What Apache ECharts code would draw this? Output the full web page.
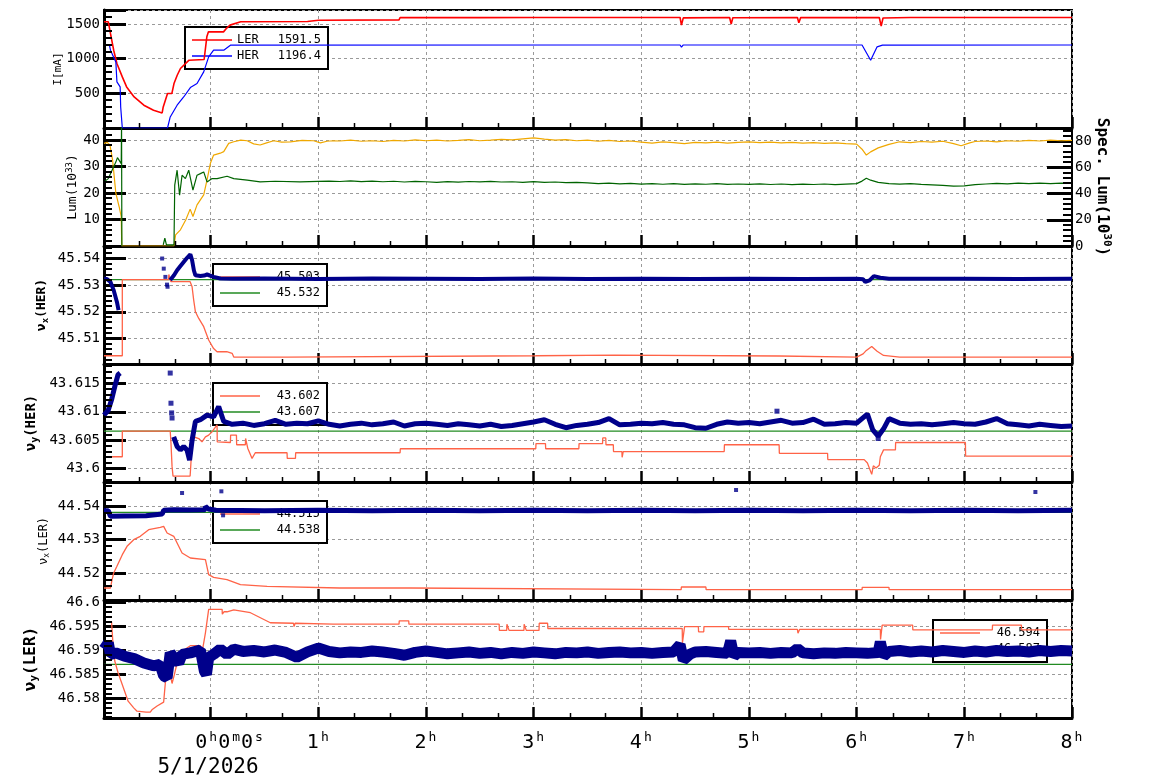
<!DOCTYPE html>
<html><head><meta charset="utf-8">
<script src="https://cdn.jsdelivr.net/npm/echarts@6/dist/echarts.min.js"></script>
<style>html,body{margin:0;padding:0;background:#fff}#c{width:1154px;height:782px}</style>
</head><body><div id="c"></div>
<script>
const FONT = 'DejaVu Sans Mono';
// ---------- tick labels ----------
const hourTicks = [0,1,2,3,4,5,6,7,8];
const dateLabel = '5/1/2026';
const p1Labels = ['500','1000','1500'];
const p2Labels = ['10','20','30','40'];
const p2rLabels = ['0','20','40','60','80'];
const p3Labels = ['45.51','45.52','45.53','45.54'];
const p4Labels = ['43.6','43.605','43.61','43.615'];
const p5Labels = ['44.52','44.53','44.54'];
const p6Labels = ['46.58','46.585','46.59','46.595','46.6'];
// ---------- legend values ----------
const legP1 = ['1591.5','1196.4'];
const legP3 = ['45.503','45.532'];
const legP4 = ['43.602','43.607'];
const legP5 = ['44.515','44.538'];
const legP6 = ['46.594','46.587'];
// ---------- data: [hours, value] ----------
const LER = [[-0.99,1530],[-0.95,1530],[-0.93,1362],[-0.9,1121],[-0.87,929],[-0.82,736],[-0.78,592],[-0.71,447],[-0.62,328],[-0.53,255],[-0.45,217],[-0.44,303],[-0.4,496],[-0.36,496],[-0.34,640],[-0.31,760],[-0.28,857],[-0.2,977],[-0.06,987],[-0.035,1313],[-0.02,1385],[0.12,1385],[0.15,1440],[0.18,1482],[0.28,1530],[0.9,1535],[1.0,1552],[1.75,1558],[1.76,1592],[2.5,1590],[3.0,1593],[3.6,1591],[4.36,1592],[4.373,1482],[4.39,1586],[4.82,1592],[4.835,1496],[4.85,1589],[5.45,1592],[5.463,1515],[5.48,1590],[6.21,1592],[6.228,1467],[6.245,1585],[6.5,1592],[7.2,1591],[8,1592]];
const HER = [[-0.99,1196],[-0.94,1196],[-0.93,1121],[-0.88,952],[-0.87,664],[-0.84,592],[-0.835,303],[-0.82,0],[-0.4,0],[-0.375,159],[-0.311,328],[-0.25,447],[-0.188,583],[-0.126,640],[-0.064,808],[-0.018,1024],[0.028,1121],[0.122,1121],[0.184,1193],[3.62,1196],[3.63,1178],[3.64,1196],[4.36,1196],[4.373,1165],[4.39,1196],[4.83,1196],[4.838,1172],[4.846,1196],[5.45,1196],[5.463,1178],[5.476,1196],[6.05,1196],[6.13,977],[6.19,1169],[6.24,1193],[8,1196]];
const LUM = [[-0.99,38.7],[-0.96,39.1],[-0.935,38.1],[-0.91,32.4],[-0.88,19.9],[-0.85,14.9],[-0.83,11.1],[-0.825,0],[-0.34,0],[-0.325,4.2],[-0.28,6.1],[-0.23,9.9],[-0.19,13.9],[-0.164,11.1],[-0.126,15.5],[-0.064,19.3],[-0.033,24.9],[-0.002,31.2],[0.028,34.3],[0.09,35],[0.122,35.6],[0.168,38.7],[0.215,39.3],[0.28,39.9],[0.34,39.7],[0.4,38.5],[0.46,38.1],[0.52,38.9],[0.586,39.7],[0.66,39.2],[0.74,39.3],[0.85,39.8],[0.957,39.7],[1.02,38.9],[1.08,39.5],[1.14,39.7],[1.2,39.6],[1.3,39.9],[1.4,39.5],[1.5,39.7],[1.6,39.4],[1.7,39.8],[1.8,39.6],[1.9,40.0],[2.0,39.7],[2.1,39.9],[2.2,39.6],[2.3,39.8],[2.4,40.1],[2.5,39.7],[2.6,39.9],[2.7,40.2],[2.8,40.0],[2.9,40.4],[3.0,40.8],[3.1,40.3],[3.2,39.9],[3.3,40.1],[3.4,39.7],[3.5,39.9],[3.6,39.5],[3.7,39.8],[3.8,39.4],[3.9,39.6],[4.0,39.2],[4.1,38.8],[4.2,39.3],[4.3,39.0],[4.4,38.6],[4.5,39.1],[4.6,38.9],[4.7,39.2],[4.8,38.8],[4.9,39.1],[5.0,39.3],[5.1,39.0],[5.2,39.2],[5.3,38.9],[5.4,39.1],[5.5,38.8],[5.6,39.0],[5.7,38.7],[5.8,38.9],[5.9,38.6],[6.0,38.4],[6.05,36.5],[6.09,34.3],[6.13,35.5],[6.2,37.0],[6.3,38.3],[6.4,39.3],[6.5,39.0],[6.6,39.4],[6.7,39.2],[6.8,39.5],[6.9,38.6],[6.97,37.8],[7.05,38.9],[7.1,39.4],[7.2,39.6],[7.3,39.3],[7.4,39.7],[7.5,39.5],[7.6,39.8],[7.7,39.6],[7.8,39.9],[7.9,39.7],[8.0,39.8]];
const SPEC = [[-0.99,48.9],[-0.95,51.4],[-0.915,57.8],[-0.88,64],[-0.865,67.4],[-0.83,62.8],[-0.827,95],[-0.824,0],[-0.6,null],[-0.44,0.8],[-0.425,5.9],[-0.41,0.8],[-0.34,0.8],[-0.333,46.4],[-0.311,57.8],[-0.288,38.8],[-0.265,54],[-0.234,51.4],[-0.203,57.8],[-0.164,42.6],[-0.126,54],[-0.095,55.2],[-0.064,56.5],[-0.033,48.9],[0.014,51.4],[0.06,51.4],[0.153,53.2],[0.215,51.4],[0.34,50.2],[0.46,48.9],[0.6,49.4],[0.83,48.9],[1.0,49.3],[1.1,49.5],[1.2,49.2],[1.3,49.6],[1.4,49.1],[1.5,49.5],[1.6,49.0],[1.7,49.4],[1.8,48.8],[1.9,49.3],[2.0,49.0],[2.1,48.6],[2.2,49.1],[2.3,48.7],[2.4,49.2],[2.5,48.9],[2.6,49.3],[2.7,48.8],[2.8,49.0],[2.9,48.6],[3.0,49.1],[3.1,48.5],[3.2,48.8],[3.3,48.3],[3.4,48.6],[3.5,48.1],[3.6,47.5],[3.7,47.9],[3.8,47.4],[3.9,47.8],[4.0,47.2],[4.1,47.6],[4.2,47.1],[4.3,47.5],[4.4,47.0],[4.5,47.4],[4.6,47.1],[4.7,47.6],[4.8,47.0],[4.9,47.3],[5.0,47.0],[5.1,47.4],[5.2,46.9],[5.3,47.3],[5.4,46.8],[5.5,47.2],[5.6,46.9],[5.7,47.3],[5.8,46.8],[5.9,47.2],[6.0,47.6],[6.05,49.5],[6.09,51.7],[6.13,50.2],[6.2,48.5],[6.3,47.6],[6.4,47.2],[6.5,47.5],[6.6,47.0],[6.7,46.6],[6.8,46.2],[6.9,45.6],[7.0,45.9],[7.1,46.8],[7.2,47.3],[7.3,47.8],[7.4,47.4],[7.5,47.9],[7.6,47.5],[7.7,48.0],[7.8,47.6],[7.9,47.9],[8.0,47.7]];
// nu_x HER
const NXH_MEAS = [[-0.99,45.5325],[-0.96,45.5322],[-0.93,45.5312],[-0.9,45.5281],[-0.87,45.5237],[-0.855,45.5206],[-0.6,null],[-0.375,45.5319],[-0.34,45.5337],[-0.311,45.5356],[-0.28,45.5372],[-0.25,45.5387],[-0.22,45.5402],[-0.188,45.5416],[-0.172,45.5394],[-0.155,45.5355],[-0.141,45.5337],[-0.095,45.5334],[-0.06,45.5336],[-0.033,45.534],[0.028,45.5331],[0.09,45.5325],[0.2,45.5324],[0.5,45.5325],[1.0,45.5323],[1.5,45.5325],[2.0,45.5324],[2.5,45.5323],[3.0,45.5325],[3.5,45.5323],[4.0,45.5324],[4.5,45.5323],[5.0,45.5324],[5.5,45.5323],[6.0,45.5324],[6.06,45.5322],[6.08,45.5312],[6.12,45.5318],[6.16,45.5334],[6.22,45.5328],[6.3,45.5324],[7.0,45.5324],[7.5,45.5323],[8,45.5324]];
const NXH_OUT = [[-0.45,45.54],[-0.435,45.5362],[-0.42,45.5331],[-0.405,45.5302],[-0.4,45.5294]];
const NXH_SET = [[-0.99,45.5035],[-0.82,45.5035],[-0.82,45.5321],[-0.39,45.5321],[-0.388,45.534],[-0.37,45.534],[-0.368,45.5313],[-0.19,45.5313],[-0.172,45.5294],[-0.157,45.5244],[-0.141,45.52],[-0.11,45.5175],[-0.064,45.5144],[-0.018,45.5094],[0.028,45.5062],[0.06,45.505],[0.15,45.505],[0.152,45.5044],[0.2,45.5044],[0.215,45.503],[0.71,45.503],[0.712,45.5035],[3.02,45.5035],[3.022,45.5037],[3.75,45.5037],[3.752,45.5034],[5.28,45.5034],[5.282,45.503],[6.0,45.503],[6.06,45.5042],[6.09,45.5055],[6.14,45.507],[6.19,45.5052],[6.25,45.5036],[6.4,45.503],[8,45.503]];
const NXH_REF = [[-0.99,45.5321],[8,45.5321]];
// nu_y HER
const NYH_MEAS = [[-0.99,43.6094],[-0.95,43.6103],[-0.92,43.6121],[-0.89,43.6144],[-0.86,43.6165],[-0.84,43.6168],[-0.6,null],[-0.343,43.6056],[-0.311,43.6039],[-0.281,43.6033],[-0.25,43.6039],[-0.219,43.6033],[-0.195,43.6015],[-0.172,43.605],[-0.141,43.6083],[-0.095,43.6086],[-0.033,43.6094],[0.028,43.6091],[0.075,43.6109],[0.122,43.6083],[0.2,43.6078],[0.3,43.6080],[0.4,43.6076],[0.5,43.6079],[0.6,43.6085],[0.7,43.6078],[0.8,43.6080],[0.9,43.6079],[1.0,43.6084],[1.1,43.6078],[1.2,43.6075],[1.3,43.6078],[1.4,43.6080],[1.5,43.6077],[1.6,43.6079],[1.7,43.6082],[1.8,43.6075],[1.9,43.6079],[2.0,43.6080],[2.1,43.6078],[2.2,43.6076],[2.3,43.6079],[2.4,43.6077],[2.5,43.6075],[2.6,43.6078],[2.7,43.6074],[2.8,43.6076],[2.9,43.6079],[3.0,43.6082],[3.1,43.6086],[3.2,43.6078],[3.3,43.6072],[3.4,43.6076],[3.5,43.6078],[3.6,43.6081],[3.7,43.6088],[3.8,43.6077],[3.9,43.6078],[4.0,43.6080],[4.1,43.6079],[4.2,43.6081],[4.3,43.6078],[4.4,43.6077],[4.5,43.6072],[4.6,43.6071],[4.7,43.6078],[4.8,43.6082],[4.9,43.6080],[5.0,43.6081],[5.1,43.6079],[5.2,43.6082],[5.3,43.6085],[5.4,43.6080],[5.5,43.6081],[5.6,43.6087],[5.7,43.6078],[5.8,43.6079],[5.9,43.6081],[6.0,43.6080],[6.1,43.6096],[6.15,43.6068],[6.2,43.6057],[6.25,43.6070],[6.3,43.6088],[6.4,43.6080],[6.5,43.6078],[6.6,43.6079],[6.7,43.6077],[6.8,43.6079],[6.9,43.6081],[7.0,43.6079],[7.1,43.6078],[7.2,43.6082],[7.3,43.6088],[7.4,43.6079],[7.5,43.6077],[7.6,43.6075],[7.7,43.6078],[7.8,43.6076],[7.9,43.6074],[8.0,43.6075]];
const NYH_OUT = [[-0.375,43.6168],[-0.368,43.6115],[-0.362,43.6098],[-0.358,43.6089],[5.26,43.6101],[6.2,43.6053]];
const NYH_SET = [[-0.99,43.6021],[-0.82,43.6021],[-0.82,43.6066],[-0.375,43.6066],[-0.368,43.6045],[-0.358,43.6004],[-0.349,43.5987],[-0.19,43.5987],[-0.183,43.6009],[-0.17,43.605],[-0.157,43.6056],[-0.11,43.6053],[-0.08,43.6047],[-0.048,43.6056],[-0.018,43.6059],[0.014,43.6065],[0.06,43.6077],[0.062,43.6047],[0.184,43.6046],[0.186,43.6059],[0.24,43.6059],[0.242,43.6042],[0.323,43.6042],[0.325,43.6053],[0.345,43.6036],[0.385,43.6018],[0.415,43.6028],[0.71,43.6028],[0.712,43.6018],[0.788,43.6018],[0.79,43.6028],[1.76,43.6028],[1.762,43.6035],[3.02,43.6035],[3.022,43.6044],[3.11,43.6044],[3.112,43.6035],[3.42,43.6035],[3.422,43.6044],[3.64,43.6044],[3.642,43.6054],[3.67,43.6054],[3.672,43.6042],[3.74,43.6042],[3.742,43.603],[3.82,43.603],[3.822,43.602],[3.83,43.602],[3.832,43.603],[4.77,43.603],[4.772,43.6042],[5.28,43.6042],[5.282,43.6027],[5.73,43.6027],[5.732,43.6016],[6.07,43.6016],[6.1,43.601],[6.14,43.599],[6.155,43.6005],[6.18,43.6001],[6.21,43.6006],[6.22,43.6021],[6.25,43.6033],[6.36,43.6033],[6.362,43.6046],[7.01,43.6046],[7.012,43.6022],[8,43.6022]];
const NYH_REF = [[-0.99,43.6066],[8,43.6066]];
// nu_x LER
const NXL_MEAS = [[-0.99,44.5387],[-0.95,44.5387],[-0.93,44.537],[-0.8,44.5371],[-0.6,44.5372],[-0.45,44.5377],[-0.435,44.5388],[-0.34,44.539],[-0.2,44.5389],[-0.05,44.539],[-0.048,44.54],[-0.02,44.5392],[0.05,44.5388],[0.5,44.5387],[1.0,44.5388],[1.5,44.5387],[2.0,44.5388],[2.5,44.5387],[3.0,44.5388],[3.5,44.5387],[4.0,44.5388],[4.5,44.5387],[5.0,44.5388],[5.5,44.5387],[6.0,44.5388],[6.5,44.5387],[7.0,44.5388],[7.5,44.5387],[8,44.5388]];
const NXL_OUT = [[-0.265,44.544],[0.10,44.5445],[0.116,44.5373],[4.88,44.5449],[7.66,44.5443]];
const NXL_SET = [[-0.99,44.5155],[-0.93,44.5155],[-0.915,44.518],[-0.9,44.52],[-0.87,44.522],[-0.82,44.5255],[-0.776,44.528],[-0.714,44.53],[-0.653,44.531],[-0.575,44.533],[-0.467,44.5337],[-0.436,44.534],[-0.404,44.532],[-0.342,44.531],[-0.265,44.526],[-0.188,44.5245],[-0.048,44.524],[-0.018,44.5195],[0.028,44.5187],[0.152,44.518],[0.277,44.5165],[0.525,44.516],[1.2,44.5155],[1.85,44.5155],[1.852,44.515],[4.37,44.515],[4.372,44.5158],[4.6,44.5158],[4.602,44.515],[6.05,44.515],[6.052,44.5157],[6.3,44.5157],[6.302,44.515],[8,44.515]];
const NXL_REF = [[-0.99,44.5382],[8,44.5382]];
// nu_y LER
const NYL_MEAS = [[-0.99,46.5903],[-0.95,46.5916],[-0.93,46.5892],[-0.88,46.5895],[-0.8,46.5888],[-0.71,46.5883],[-0.62,46.5874],[-0.53,46.5868],[-0.47,46.5871],[-0.436,46.5847],[-0.404,46.5843],[-0.375,46.5895],[-0.342,46.5885],[-0.296,46.5874],[-0.265,46.5892],[-0.188,46.5895],[-0.095,46.5901],[-0.058,46.5857],[-0.039,46.585],[-0.018,46.5885],[0.028,46.5892],[0.09,46.5903],[0.153,46.5892],[0.215,46.5903],[0.3,46.5898],[0.4,46.5900],[0.5,46.5897],[0.6,46.5901],[0.7,46.5896],[0.8,46.5886],[0.9,46.5897],[1.0,46.5905],[1.1,46.5898],[1.2,46.5895],[1.3,46.5897],[1.4,46.5896],[1.5,46.5899],[1.6,46.5897],[1.7,46.5894],[1.8,46.5890],[1.9,46.5896],[2.0,46.5899],[2.1,46.5896],[2.2,46.5893],[2.3,46.5895],[2.4,46.5897],[2.5,46.5894],[2.6,46.5896],[2.7,46.5893],[2.8,46.5896],[2.9,46.5894],[3.0,46.5897],[3.1,46.5895],[3.2,46.5893],[3.3,46.5896],[3.4,46.5895],[3.5,46.5897],[3.6,46.5894],[3.7,46.5896],[3.8,46.5897],[3.9,46.5895],[4.0,46.5896],[4.1,46.5894],[4.2,46.5896],[4.3,46.5897],[4.36,46.5912],[4.39,46.5880],[4.45,46.5892],[4.5,46.5897],[4.6,46.5898],[4.7,46.5896],[4.8,46.5894],[4.83,46.5920],[4.86,46.5888],[4.9,46.5896],[5.0,46.5895],[5.1,46.5896],[5.2,46.5894],[5.3,46.5896],[5.4,46.5895],[5.45,46.5904],[5.5,46.5895],[5.6,46.5893],[5.7,46.5895],[5.8,46.5894],[5.9,46.5896],[6.0,46.5895],[6.1,46.5894],[6.2,46.5896],[6.22,46.5918],[6.25,46.5888],[6.3,46.5898],[6.4,46.5900],[6.5,46.5897],[6.6,46.5899],[6.7,46.5897],[6.8,46.5900],[6.9,46.5898],[7.0,46.5896],[7.1,46.5899],[7.2,46.5897],[7.3,46.5900],[7.4,46.5898],[7.5,46.5899],[7.6,46.5897],[7.7,46.5900],[7.8,46.5898],[7.9,46.5900],[8.0,46.5899]];
const NYL_SET = [[-0.99,46.596],[-0.92,46.596],[-0.905,46.5909],[-0.89,46.5878],[-0.86,46.5854],[-0.81,46.5822],[-0.766,46.5794],[-0.714,46.578],[-0.683,46.5773],[-0.6,46.5771],[-0.56,46.5771],[-0.545,46.5776],[-0.497,46.5784],[-0.436,46.5792],[-0.42,46.5833],[-0.404,46.5854],[-0.375,46.585],[-0.358,46.5831],[-0.336,46.585],[-0.311,46.5874],[-0.281,46.5888],[-0.234,46.5903],[-0.188,46.591],[-0.095,46.591],[-0.08,46.5895],[-0.048,46.5937],[-0.018,46.5986],[0.107,46.5986],[0.109,46.5976],[0.122,46.5976],[0.124,46.5981],[0.153,46.5981],[0.215,46.5985],[0.37,46.5979],[0.555,46.5958],[0.77,46.5957],[0.775,46.595],[0.785,46.5957],[1.14,46.5955],[1.75,46.5955],[1.752,46.5962],[1.84,46.5962],[1.842,46.5955],[2.68,46.5955],[2.682,46.5942],[2.75,46.5942],[2.752,46.5955],[2.77,46.5955],[2.772,46.5942],[2.91,46.5942],[2.912,46.5955],[2.93,46.5955],[2.932,46.5942],[3.05,46.5942],[3.052,46.5957],[3.13,46.5957],[3.132,46.5946],[4.38,46.5946],[4.382,46.5916],[4.4,46.5916],[4.402,46.595],[4.53,46.595],[4.532,46.5939],[4.58,46.5939],[4.582,46.595],[4.81,46.595],[4.812,46.5944],[5.45,46.5944],[5.455,46.5936],[5.47,46.5944],[6.22,46.5944],[6.222,46.5923],[6.235,46.5923],[6.237,46.5953],[6.52,46.5953],[6.522,46.5943],[7.26,46.5943],[7.262,46.5953],[7.53,46.5953],[7.532,46.5943],[8,46.5943]];
const NYL_REF = [[-0.99,46.5871],[8,46.5871]];

// ---------- layout ----------
const X_MIN = -0.99, X_MAX = 8;
const tops = [10,128,246,364,482,600];
const PH = 118;
const GRID_LINE = {color:'#9a9a9a', type:[3,3], width:1};

function fmtY(v, labels) {
  const s = String(+(+v).toFixed(4));
  return labels.indexOf(s) >= 0 ? s : '';
}
function nameStyle(fs, bold) {
  const fw = bold ? 'bold' : 'normal';
  return {fontFamily:FONT, fontSize:fs, fontWeight:fw, color:'#000',
    rich:{
      n:{fontFamily:FONT, fontSize:fs, fontWeight:fw, color:'#000', lineHeight:fs+3},
      p:{fontFamily:FONT, fontSize:Math.round(fs*0.7), fontWeight:fw, color:'#000', lineHeight:Math.round(fs*0.6), verticalAlign:'top'},
      b:{fontFamily:FONT, fontSize:Math.round(fs*0.7), fontWeight:fw, color:'#000', lineHeight:Math.round(fs*0.6), verticalAlign:'bottom'}
    }};
}
function yAx(gi, c, right) {
  return {
    type:'value', gridIndex:gi, position: right ? 'right' : 'left',
    min:c.min, max:c.max, minInterval:c.iv, maxInterval:c.iv, splitNumber:4,
    axisLine:{show:true, onZero:false, lineStyle:{color:'#000', width: right ? 2 : 3}},
    axisTick:{show:true, inside:true, length: right ? 25 : 22, lineStyle:{color:'#000', width:3}},
    minorTick:{show:false},
    splitLine:{show:!right, lineStyle:GRID_LINE},
    axisLabel:{show:true, margin: right ? 3 : 4, fontFamily:FONT, fontSize:14, color:'#000', formatter: v => fmtY(v, c.labels)},
    name:c.name, nameLocation:'middle', nameGap:c.gap, nameRotate:c.rot, nameMoveOverlap:false,
    nameTextStyle: nameStyle(c.fs, c.bold)
  };
}
function xAx(gi, last) {
  return {
    type:'value', gridIndex:gi, position:'bottom', min:X_MIN, max:X_MAX, minInterval:1, maxInterval:1, splitNumber:9,
    axisLine:{show:true, onZero:false, lineStyle:{color:'#000', width:3}},
    axisTick:{show:true, inside:true, length:11, lineStyle:{color:'#000', width:2.5}},
    minorTick:{show:false},
    splitLine:{show:true, lineStyle:GRID_LINE},
    axisLabel:{show:last, margin:13, color:'#000', fontFamily:FONT,
      formatter: v => {
        const r = Math.round(v);
        if (Math.abs(v - r) > 1e-6 || hourTicks.indexOf(r) < 0) return '';
        return r === 0 ? '{z|0}{s|h}{n|0}{s|m}{n|0}{s|s}' : '{n|' + r + '}{s|h}';
      },
      rich:{
        n:{fontFamily:FONT, fontSize:20, lineHeight:24, color:'#000'},
        z:{fontFamily:FONT, fontSize:20, lineHeight:24, color:'#000', padding:[0,0,0,38]},
        s:{fontFamily:FONT, fontSize:13, lineHeight:10, verticalAlign:'top', color:'#000', padding:[0,1,0,2]}
      }}
  };
}
const yCfg = [
  {min:0, max:1700, iv:500, labels:p1Labels, name:'I[mA]', fs:11, bold:false, gap:40},
  {min:0, max:44.5, iv:10, labels:p2Labels, name:'{n|Lum(10}{p|33}{n|)}', fs:13, bold:false, gap:23},
  {min:0, max:90, iv:20, labels:p2rLabels, name:'{n|Spec. Lum(10}{p|30}{n|)}', fs:16, bold:true, gap:21, rot:-90},
  {min:45.5004, max:45.5447, iv:0.01, labels:p3Labels, name:'{n|ν}{b|x}{n|(HER)}', fs:13, bold:true, gap:54},
  {min:43.59766, max:43.61839, iv:0.005, labels:p4Labels, name:'{n|ν}{b|y}{n|(HER)}', fs:14, bold:true, gap:64},
  {min:44.5119, max:44.5473, iv:0.01, labels:p5Labels, name:'{n|ν}{b|x}{n|(LER)}', fs:12, bold:false, gap:53},
  {min:46.57588, max:46.60056, iv:0.005, labels:p6Labels, name:'{n|ν}{b|y}{n|(LER)}', fs:16, bold:true, gap:64}
];
const yAxisGrid = [0,1,1,2,3,4,5];
const yAxisRight = [false,false,true,false,false,false,false];
const gridMainY = [0,1,3,4,5,6];

function line(name, data, xi, yi, color, width, z) {
  return {type:'line', name, data, xAxisIndex:xi, yAxisIndex:yi, symbol:'none', showSymbol:false,
    color, itemStyle:{color}, lineStyle:{color, width, join:'bevel'}, connectNulls:false, z: z || 2, animation:false};
}
function dots(name, data, xi, yi, color, size) {
  return {type:'scatter', name, data, xAxisIndex:xi, yAxisIndex:yi, symbol:'rect', symbolSize:size,
    itemStyle:{color}, z:3, animation:false};
}
// minor-tick decoration drawn as a custom series on the panel's own axes
function tickSeries(xi, yi, pts, dx, dy, w) {
  return {type:'custom', xAxisIndex:xi, yAxisIndex:yi, data:pts, silent:true, clip:false, z:6, animation:false,
    encode:{x:0, y:1},
    renderItem:(params, api) => {
      const p = api.coord([api.value(0), api.value(1)]);
      const x = dy ? Math.round(p[0]) + 0.5 : p[0];
      const y = dx ? Math.round(p[1]) : p[1];
      return {type:'line', shape:{x1:x, y1:y, x2:x + dx, y2:y + dy}, style:{stroke:'#000', lineWidth:w, fill:null}};
    }};
}
const minorSeries = [];
yCfg.forEach((c, yi) => {
  const gi = yAxisGrid[yi], right = yAxisRight[yi], m = c.iv / 5;
  const pts = [];
  const k0 = Math.ceil(c.min / m - 1e-7), k1 = Math.floor(c.max / m + 1e-7);
  for (let k = k0; k <= k1; k++) if (k % 5 !== 0) pts.push([right ? X_MAX : X_MIN, k * m]);
  minorSeries.push(tickSeries(gi, yi, pts, right ? -9 : 8, 0, 2));
});
gridMainY.forEach((yi, gi) => {
  const pts = [];
  for (let k = -2; k <= 24; k++) { const t = k / 3; if (k % 3 !== 0 && t >= X_MIN && t <= X_MAX) pts.push([t, yCfg[yi].min]); }
  minorSeries.push(tickSeries(gi, yi, pts, 0, -5, 1.5));
});

const RED = '#ff6347', GRN = '#228b22', NAVY = '#00008b';

function legend(left, top, names, vals, withName) {
  return {
    left, top, orient:'vertical', itemGap:0, itemWidth:40, itemHeight:1.5, icon:'rect',
    padding:[5,7,5,7], backgroundColor:'#fff', borderColor:'#000', borderWidth:2, z:1,
    selectedMode:false, data:names, itemStyle:{borderWidth:0},
    formatter: n => { const i = names.indexOf(n); return withName ? '{a|' + n + '}{b|' + vals[i] + '}' : '{b|' + vals[i] + '}'; },
    textStyle:{fontFamily:FONT, fontSize:12, color:'#000', lineHeight:16,
      rich:{a:{fontFamily:FONT, fontSize:12, width:30, lineHeight:16, color:'#000'},
            b:{fontFamily:FONT, fontSize:12, width: withName ? 54 : 55, align:'right', lineHeight:16, color:'#000'}}}
  };
}

const option = {
  animation:false,
  backgroundColor:'#fff',
  textStyle:{fontFamily:FONT},
  grid: tops.map(t => ({left:104, right:82, top:t, height:PH, show:true, borderColor:'#000', borderWidth:2, backgroundColor:'transparent'})),
  xAxis: tops.map((t,i) => xAx(i, i === 5)),
  yAxis: yCfg.map((c,i) => yAx(yAxisGrid[i], c, yAxisRight[i])),
  legend: [
    legend(185, 27, ['LER','HER'], legP1, true),
    legend(213, 264, ['νx(HER) set','νx(HER) ref'], legP3, false),
    legend(213, 383, ['νy(HER) set','νy(HER) ref'], legP4, false),
    legend(213, 501, ['νx(LER) set','νx(LER) ref'], legP5, false),
    legend(933, 620, ['νy(LER) set','νy(LER) ref'], legP6, false)
  ],
  series: [
    line('LER', LER, 0, 0, '#ff0000', 1.6),
    line('HER', HER, 0, 0, '#0000ff', 1.2),
    line('Lum', LUM, 1, 1, '#f0a800', 1.2),
    line('Spec. Lum', SPEC, 1, 2, '#006400', 1.2),
    line('νx(HER) ref', NXH_REF, 2, 3, GRN, 1.3),
    line('νx(HER) set', NXH_SET, 2, 3, RED, 1.3),
    line('νx(HER)', NXH_MEAS, 2, 3, NAVY, 4, 3),
    dots('νx(HER) pts', NXH_OUT, 2, 3, NAVY, 4),
    line('νy(HER) ref', NYH_REF, 3, 4, GRN, 1.3),
    line('νy(HER) set', NYH_SET, 3, 4, RED, 1.3),
    line('νy(HER)', NYH_MEAS, 3, 4, NAVY, 5, 3),
    dots('νy(HER) pts', NYH_OUT, 3, 4, NAVY, 5),
    line('νx(LER) ref', NXL_REF, 4, 5, GRN, 1.3),
    line('νx(LER) set', NXL_SET, 4, 5, RED, 1.3),
    line('νx(LER)', NXL_MEAS, 4, 5, NAVY, 5, 3),
    dots('νx(LER) pts', NXL_OUT, 4, 5, NAVY, 4),
    line('νy(LER) ref', NYL_REF, 5, 6, GRN, 1.3),
    line('νy(LER) set', NYL_SET, 5, 6, RED, 1.3),
    line('νy(LER)', NYL_MEAS, 5, 6, NAVY, 11, 3)
  ].concat(minorSeries),
  graphic: [{type:'text', x:208, y:768, z:10, silent:true,
    style:{text:dateLabel, fontFamily:FONT, fontSize:21, fill:'#000', align:'center', verticalAlign:'middle', textAlign:'center', textVerticalAlign:'middle'}}]
};
const chart = echarts.init(document.getElementById('c'), null, {renderer:'canvas', width:1154, height:782});
chart.setOption(option);
</script>
</body></html>
